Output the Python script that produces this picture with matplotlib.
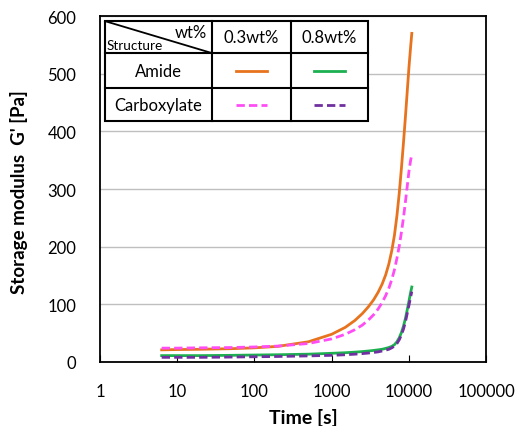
import matplotlib
matplotlib.use("Agg")
import matplotlib.pyplot as plt
from matplotlib.patches import Rectangle
from matplotlib.lines import Line2D

plt.rcParams['font.family'] = ['Lato', 'DejaVu Sans']

# time [s]
time_s = [6.3, 10, 20, 50, 100, 200, 500, 1000, 1500, 2000, 2500, 3000, 3500, 4000,
          4500, 5000, 5500, 6000, 6500, 7000, 7500, 8000, 8500, 9000, 9500, 10000,
          10500, 10900]

# storage modulus G' [Pa]
amide_03 = [21, 21.5, 22, 23, 24.5, 27, 35, 48, 60, 72, 84, 96, 108, 121,
            135, 151, 170, 193, 220, 254, 293, 336, 380, 424, 468, 510, 545, 570]
carbox_03 = [24, 24, 24.5, 25, 26, 27.5, 32, 40, 48, 56, 64, 73, 82, 92,
             103, 115, 128, 143, 160, 180, 201, 225, 250, 277, 304, 330, 349, 360]
amide_08 = [11, 11, 11, 11.5, 12, 12.5, 13.5, 15, 16, 17, 18, 19, 20, 21,
            22, 23.5, 25, 27, 30, 35, 42, 51, 62, 75, 90, 105, 120, 130]
carbox_08 = [8, 8, 8, 8.5, 9, 9.5, 10.5, 11.5, 12.5, 13.5, 14.5, 15.5, 16.5, 17.5,
             19, 20.5, 22, 24.5, 27.5, 32, 38.5, 47, 57, 69, 84, 98, 112, 122]

x_ticks = [1, 10, 100, 1000, 10000, 100000]
x_labels = ['1', '10', '100', '1000', '10000', '100000']
y_ticks = [0, 100, 200, 300, 400, 500, 600]

c_orange = '#E8731E'
c_green = '#1DB050'
c_pink = '#FF4DF5'
c_purple = '#7030A0'
dash = (0, (3, 1.5))

fig = plt.figure(figsize=(5.15, 4.27), dpi=100)
ax = fig.add_axes([0.194, 0.150, 0.750, 0.810])

ax.plot(time_s, amide_03, color=c_orange, lw=2)
ax.plot(time_s, carbox_03, color=c_pink, lw=2, ls=dash)
ax.plot(time_s, amide_08, color=c_green, lw=2)
ax.plot(time_s, carbox_08, color=c_purple, lw=2, ls=dash)

ax.set_xscale('log')
ax.set_xlim(1, 100000)
ax.set_ylim(0, 600)
ax.set_xticks(x_ticks)
ax.set_xticklabels(x_labels)
ax.xaxis.set_minor_locator(matplotlib.ticker.NullLocator())
ax.set_yticks(y_ticks)
ax.tick_params(axis='x', direction='in', length=5, labelsize=12, pad=15)
ax.tick_params(axis='y', length=0, labelsize=12, pad=17)
ax.grid(axis='y', color='#BFBFBF', lw=1)
ax.set_axisbelow(True)
for s in ax.spines.values():
    s.set_linewidth(1.3)

ax.set_xlabel('Time [s]', fontsize=14, fontweight='bold')
ax.set_ylabel("Storage modulus  G' [Pa]", fontsize=13.5, fontweight='bold')
ax.xaxis.set_label_coords(0.528, -0.132)
ax.yaxis.set_label_coords(-0.185, 0.494)

# table-style legend
cols = [0.013, 0.290, 0.495, 0.694]
rows = [0.9855, 0.893, 0.792, 0.6965]
tr = ax.transAxes
ax.add_patch(Rectangle((cols[0], rows[3]), cols[3] - cols[0], rows[0] - rows[3],
                       transform=tr, facecolor='white', edgecolor='black', lw=1.5, zorder=5))
for c in cols[1:3]:
    ax.add_line(Line2D([c, c], [rows[3], rows[0]], transform=tr, color='black', lw=1.5, zorder=6))
for r in rows[1:3]:
    ax.add_line(Line2D([cols[0], cols[3]], [r, r], transform=tr, color='black', lw=1.5, zorder=6))
ax.add_line(Line2D([cols[0], cols[1]], [rows[0], rows[1]], transform=tr, color='black', lw=1.3, zorder=6))

ax.text(cols[1] - 0.012, rows[0] - 0.008, 'wt%', transform=tr, ha='right', va='top', fontsize=12, zorder=7)
ax.text(cols[0] + 0.004, rows[1] + 0.006, 'Structure', transform=tr, ha='left', va='bottom', fontsize=9.8, zorder=7)

def mid(a, b):
    return (a + b) / 2

ax.text(mid(cols[1], cols[2]), mid(rows[0], rows[1]), '0.3wt%', transform=tr, ha='center', va='center', fontsize=12, zorder=7)
ax.text(mid(cols[2], cols[3]), mid(rows[0], rows[1]), '0.8wt%', transform=tr, ha='center', va='center', fontsize=12, zorder=7)
ax.text(mid(cols[0], cols[1]), mid(rows[1], rows[2]), 'Amide', transform=tr, ha='center', va='center', fontsize=12, zorder=7)
ax.text(mid(cols[0], cols[1]), mid(rows[2], rows[3]), 'Carboxylate', transform=tr, ha='center', va='center', fontsize=12, zorder=7)

samples = [(1, 1, c_orange, '-'), (1, 2, c_green, '-'), (2, 1, c_pink, dash), (2, 2, c_purple, dash)]
for r, c, col, ls in samples:
    xm = mid(cols[c], cols[c + 1])
    ym = mid(rows[r], rows[r + 1])
    ax.add_line(Line2D([xm - 0.041, xm + 0.041], [ym, ym], transform=tr, color=col, lw=2, ls=ls, zorder=7))

fig.savefig('out.png', dpi=100)
